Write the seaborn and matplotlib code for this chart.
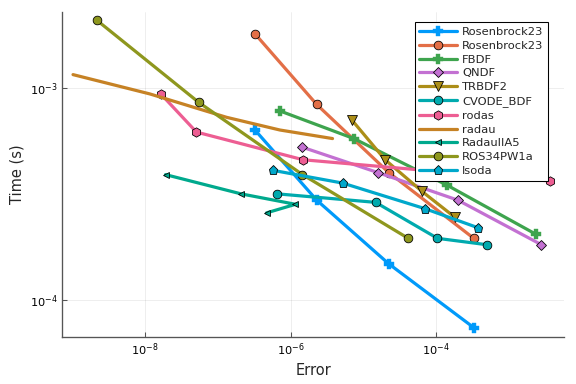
"""
Work-precision diagram: time versus error for several stiff ODE solvers.
"""

import pandas as pd
import matplotlib
matplotlib.use("Agg")
import matplotlib.pyplot as plt
import seaborn as sns
from matplotlib.ticker import NullLocator

# Données (erreur, temps en secondes)
rosenbrock23_a_err = [3.24e-7, 2.29e-6, 2.24e-5, 3.31e-4]
rosenbrock23_a_time = [6.31e-4, 2.95e-4, 1.48e-4, 7.41e-5]

rosenbrock23_b_err = [3.24e-7, 2.29e-6, 2.24e-5, 3.31e-4]
rosenbrock23_b_time = [1.79e-3, 8.32e-4, 3.98e-4, 1.95e-4]

fbdf_err = [7.13e-7, 7.43e-6, 1.42e-4, 2.36e-3]
fbdf_time = [7.76e-4, 5.75e-4, 3.47e-4, 2.04e-4]

qndf_err = [1.42e-6, 1.58e-5, 2.0e-4, 2.82e-3]
qndf_time = [5.25e-4, 3.98e-4, 2.95e-4, 1.82e-4]

trbdf2_err = [7.05e-6, 2.0e-5, 6.46e-5, 1.82e-4]
trbdf2_time = [7.0e-4, 4.57e-4, 3.24e-4, 2.45e-4]

cvode_err = [6.46e-7, 1.48e-5, 1.05e-4, 5.01e-4]
cvode_time = [3.16e-4, 2.88e-4, 1.95e-4, 1.82e-4]

rodas_err = [1.64e-8, 5.08e-8, 1.49e-6, 1.56e-4, 3.71e-3]
rodas_time = [9.33e-4, 6.17e-4, 4.57e-4, 3.98e-4, 3.63e-4]

radau_err = [1.02e-9, 1.16e-8, 1.32e-7, 7.13e-7, 3.78e-6]
radau_time = [1.15e-3, 9.33e-4, 7.24e-4, 6.31e-4, 5.75e-4]

radau5_err = [1.91e-8, 2.07e-7, 1.17e-6, 4.68e-7]
radau5_time = [3.89e-4, 3.16e-4, 2.82e-4, 2.57e-4]

ros34_err = [2.18e-9, 5.47e-8, 1.46e-6, 4.16e-5]
ros34_time = [2.07e-3, 8.51e-4, 3.89e-4, 1.95e-4]

lsoda_err = [5.83e-7, 5.2e-6, 7.06e-5, 3.75e-4]
lsoda_time = [4.07e-4, 3.55e-4, 2.69e-4, 2.19e-4]

# (nom, erreurs, temps, couleur, marqueur, taille)
series = [
    ("Rosenbrock23", rosenbrock23_a_err, rosenbrock23_a_time, "#009AFA", "P", 7),
    ("Rosenbrock23", rosenbrock23_b_err, rosenbrock23_b_time, "#E36F47", "o", 6.5),
    ("FBDF", fbdf_err, fbdf_time, "#3EA44E", "P", 7),
    ("QNDF", qndf_err, qndf_time, "#C371D2", "D", 5),
    ("TRBDF2", trbdf2_err, trbdf2_time, "#AC8E18", "v", 7),
    ("CVODE_BDF", cvode_err, cvode_time, "#00AAAE", "o", 6.5),
    ("rodas", rodas_err, rodas_time, "#ED5E93", "h", 7),
    ("radau", radau_err, radau_time, "#C68225", None, 0),
    ("RadauIIA5", radau5_err, radau5_time, "#00A98D", "<", 4.5),
    ("ROS34PW1a", ros34_err, ros34_time, "#8E971E", "o", 6.5),
    ("lsoda", lsoda_err, lsoda_time, "#00A8CB", "p", 7),
]

sns.set_theme(style="white")
plt.rcParams["font.family"] = ["DejaVu Sans"]

fig = plt.figure(figsize=(6, 4), dpi=96)
ax = fig.add_axes([0.108, 0.123, 0.871, 0.845])

for i, (name, err, t, color, marker, msize) in enumerate(series):
    df = pd.DataFrame({"error": err, "time": t})
    kw = dict(color=color, linewidth=2.4, label=name)
    if marker is not None:
        edge = color if marker == "P" else "black"
        kw.update(marker=marker, markersize=msize, markeredgecolor=edge,
                  markeredgewidth=0.6 if edge == "black" else 0.3)
    sns.lineplot(data=df, x="error", y="time", sort=False, estimator=None,
                 ax=ax, **kw)

ax.set_xscale("log")
ax.set_yscale("log")
ax.set_xlim(7.24e-10, 5.75e-3)
ax.set_ylim(6.71e-5, 2.26e-3)
ax.set_xticks([1e-8, 1e-6, 1e-4])
ax.set_yticks([1e-4, 1e-3])
ax.xaxis.set_minor_locator(NullLocator())
ax.yaxis.set_minor_locator(NullLocator())

ax.grid(True, color="black", alpha=0.1, linewidth=0.5)
for side in ["top", "right"]:
    ax.spines[side].set_visible(False)
for side in ["left", "bottom"]:
    ax.spines[side].set_color("#555555")
    ax.spines[side].set_linewidth(1.0)
ax.tick_params(direction="in", length=3.5, width=0.8, colors="#555555",
               labelcolor="black", labelsize=8.5, left=True, bottom=True)

ax.set_xlabel("Error", fontsize=11)
ax.set_ylabel("Time (s)", fontsize=11)

leg = ax.legend(loc="upper right", bbox_to_anchor=(0.968, 0.969), fontsize=8.6,
                frameon=True, fancybox=False, framealpha=1, edgecolor="black",
                handlelength=3.3, labelspacing=0.33, borderpad=0.4,
                handletextpad=0.4, borderaxespad=0)
leg.get_frame().set_linewidth(0.8)

plt.savefig("out.png", dpi=96)
plt.close()
